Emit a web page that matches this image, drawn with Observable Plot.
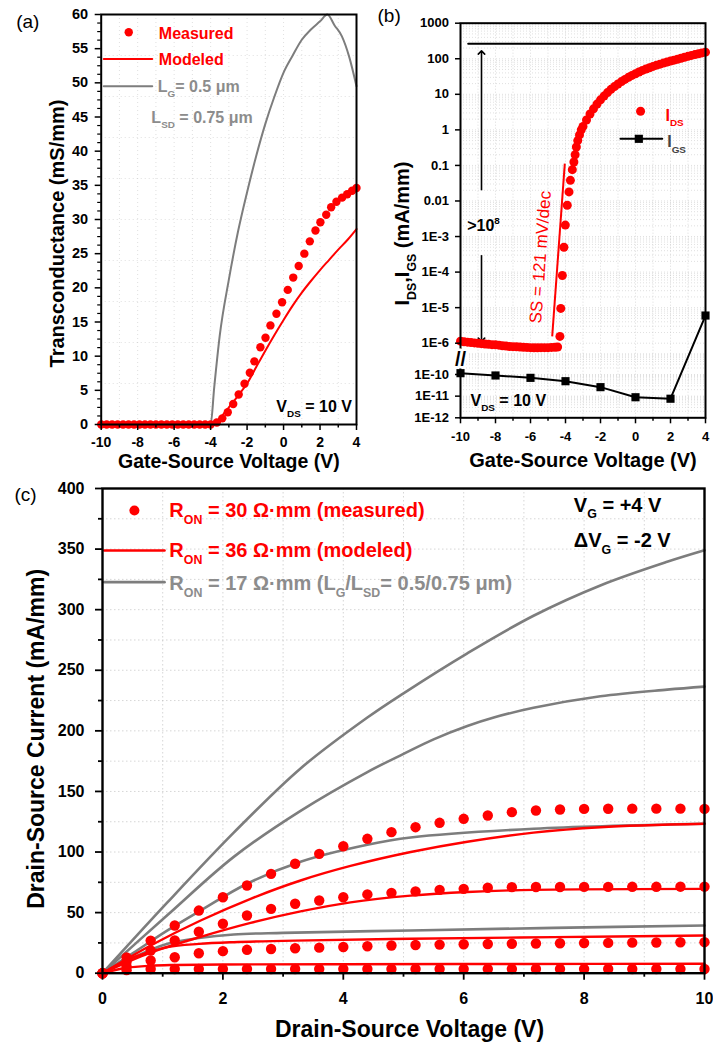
<!DOCTYPE html>
<html><head><meta charset="utf-8">
<script src="https://cdn.jsdelivr.net/npm/d3@7"></script>
<script src="https://cdn.jsdelivr.net/npm/@observablehq/plot@0.6"></script>
<style>
body{margin:0;background:#fff;}
#fig{position:relative;width:713px;height:1044px;overflow:hidden;background:#fff;}
.panel{position:absolute;}
.panel svg{overflow:visible;}
</style></head>
<body><div id="fig">
<div id="pa" class="panel" style="left:0;top:0"></div>
<div id="pb" class="panel" style="left:355px;top:0"></div>
<div id="pc" class="panel" style="left:0;top:470px"></div>
</div>
<script>
// ---------- Panel (a): transconductance ----------
const gmMeasX = [-10,-9.7,-9.4,-9.1,-8.8,-8.5,-8.2,-7.9,-7.6,-7.3,-7.0,-6.7,-6.4,-6.1,-5.8,-5.5,-5.2,-4.9,-4.6,-4.3,-4.0,
  -3.66,-3.36,-3.06,-2.76,-2.46,-2.14,-1.85,-1.6,-1.27,-0.99,-0.72,-0.39,-0.08,0.23,0.53,0.83,1.14,1.44,1.75,2.02,2.34,2.61,2.9,3.21,3.49,3.76,4.0];
const gmMeasY = [0,0,0,0,0,0,0,0,0,0,0,0,0,0,0,0,0,0,0,0,0,
  0.3,0.9,1.8,3.0,4.4,5.96,7.57,9.24,11.3,12.7,14.5,16.2,17.9,19.7,21.5,23.2,25.0,26.8,28.4,29.6,30.7,31.8,32.6,33.2,33.7,34.2,34.6];
const gmModX = [-10,-4,-3.8,-3.5,-3,-2.5,-2,-1.5,-1,-0.5,0,0.5,1,1.5,2,2.5,3,3.5,4];
const gmModY = [0,0,0.1,0.9,2.5,4.2,6.0,8.4,10.8,13.1,15.3,17.4,19.3,21.0,22.6,24.1,25.6,27.0,28.6];
const gmLgX = [-10,-4,-3.8,-3.5,-3,-2.5,-2,-1.5,-1,-0.5,0,0.5,1,1.5,2,2.4,2.8,3.2,3.6,4];
const gmLgY = [0,0,5.5,13,21.2,28.2,34,39.3,44,48,51.5,54,56.3,57.8,59,60,58.4,56.8,53.8,49.5];
const aTicksX = [-10,-8,-6,-4,-2,0,2,4];
const aTicksY = [0,5,10,15,20,25,30,35,40,45,50,55,60];

// ---------- Panel (b): transfer characteristics (broken log axis) ----------
const idsX = [-10,-9.8,-9.6,-9.4,-9.2,-9.0,-8.8,-8.6,-8.4,-8.2,-8.0,-7.8,-7.6,-7.4,-7.2,-7.0,-6.8,-6.6,-6.4,-6.2,-6.0,-5.8,-5.6,-5.4,-5.2,-5.0,-4.8,-4.6,-4.45,
  -4.32,-4.27,-4.18,-4.09,-4.01,-3.9,-3.8,-3.72,-3.61,-3.52,-3.45,-3.38,-3.3,-3.2,-3.1,
  -3.0,-2.8,-2.6,-2.4,-2.2,-2.0,-1.8,-1.6,-1.4,-1.2,-1.0,-0.8,-0.6,-0.4,-0.2,0,0.2,0.4,0.6,0.8,1.0,1.2,1.4,1.6,1.8,2.0,2.2,2.4,2.6,2.8,3.0,3.2,3.4,3.6,3.8,4.0];
const idsY = [1.14e-6,1.1e-6,1.07e-6,1.04e-6,1.02e-6,1.0e-6,9.7e-7,9.5e-7,9.3e-7,9.1e-7,9.0e-7,8.8e-7,8.5e-7,8.3e-7,8.1e-7,8.0e-7,7.9e-7,7.8e-7,7.7e-7,7.6e-7,7.5e-7,7.4e-7,7.4e-7,7.5e-7,7.5e-7,7.5e-7,7.6e-7,7.7e-7,7.8e-7,
  1.55e-6,9.5e-6,8e-5,5e-4,2.1e-3,7.6e-3,0.018,0.038,0.076,0.125,0.2,0.33,0.5,0.72,1.0,
  1.25,1.9,2.8,3.9,5.3,7.0,8.9,11.2,13.8,16.5,19.5,22.8,26.3,30,34,38,42.5,47,51.5,56,61,66,70.5,75.5,80.5,86,91.5,97,103,110,117,124,131,138,146,153];
const igsX = [-10,-8,-6,-4,-2,0,2,4];
const igsY = [1.15e-10,9e-11,7e-11,4.9e-11,2.6e-11,8.9e-12,7.6e-12,6e-6];
const bTickVals = [1000,100,10,1,0.1,0.01,1e-3,1e-4,1e-5,1e-6,1e-10,1e-11,1e-12];
const bTickLabels = ["1000","100","10","1","0.1","0.01","1E-3","1E-4","1E-5","1E-6","1E-10","1E-11","1E-12"];
const bTicksX = [-10,-8,-6,-4,-2,0,2,4];
const onLevel = 263;        // horizontal on-current reference level (mA/mm)

// ---------- Panel (c): output characteristics ----------
const vdsDots = [0,0.4,0.8,1.2,1.6,2.0,2.4,2.8,3.2,3.6,4.0,4.4,4.8,5.2,5.6,6.0,6.4,6.8,7.2,7.6,8.0,8.4,8.8,9.2,9.6,10];
const meas4 = [0,13,26.9,39.4,51.7,62.7,72.4,82,90.3,98.5,104.8,110.9,116.4,120.5,124.1,127.4,130.1,132.9,134.3,135.1,135.6,135.7,135.8,135.8,135.8,135.6];
const meas2 = [0,9.5,18.7,27,34.2,40.8,47.6,53.1,57.3,60,62.7,65,66.3,67.5,68.8,69.6,70.5,71.0,71.1,71.1,71.2,71.2,71.3,71.3,71.4,71.4];
const meas0 = [0,5.5,10.5,13.2,16.5,18.2,19.3,20.0,20.6,21.1,21.6,22.2,22.9,23.3,23.6,23.9,24.1,24.3,24.5,24.7,24.9,25.0,25.2,25.3,25.5,25.6];
const measM2 = [0,2.5,3.5,3.5,3.5,3.5,3.5,3.5,3.5,3.5,3.5,3.5,3.5,3.5,3.5,3.5,3.5,3.5,3.5,3.5,3.5,3.5,3.5,3.5,3.5,3.5];
const mod4X = [0,0.8,1.63,2.46,3.29,4.12,5.12,6.06,7.16,8.27,10];
const mod4Y = [0,22.9,43.5,61.4,76.5,88.5,100,108.5,116,120.5,123.3];
const mod2X = [0,0.8,1.63,2.46,3.29,4.12,5.12,6.06,7.16,10];
const mod2Y = [0,17,30,41.5,51,58.5,64,67,68.8,69.6];
const mod0X = [0,0.52,1.08,1.6,2.18,3.2,5.12,7.5,10];
const mod0Y = [0,13.2,21.5,24.2,25.6,26.9,28.4,29.8,31.1];
const modM2X = [0,0.4,0.8,1.2,2,4,7,10];
const modM2Y = [0,4.5,6.2,6.8,7.2,7.4,7.6,7.8];
const lg1X = [0,1.07,2.18,3.29,4.4,5.0,6.06,7.16,8.27,9.38,10];
const lg1Y = [0,58,116,169,211,231,264,295,320,339.5,349];
const lg2X = [0,1.08,2.18,3.29,4.4,5.0,5.5,6.06,6.5,7.16,8.27,9.38,10];
const lg2Y = [0,48,96,134,166,181,193,204,211,219,228.5,234,236.5];
const lg3X = [0,0.52,1.08,1.63,2.4,3.29,4.4,5.12,7.16,10];
const lg3Y = [0,17,35.3,51.7,73.8,92,106,112,119.2,123.3];
const lg4X = [0,0.52,1.08,1.6,2.18,3,5.12,7.5,10];
const lg4Y = [0,13.2,24.3,29,32,33.3,35.3,37.4,39.4];
const cTicksX = [0,2,4,6,8,10];
const cTicksY = [0,50,100,150,200,250,300,350,400];

// ---------- helpers ----------
const FONT = '"Liberation Sans", Arial, Helvetica, sans-serif';
const RED = "#ff0000", GRAY = "#7d7d7d", LGRAY = "#8c8c8c";
const pts = (xs, ys, f = v => v) => xs.map((x, i) => ({x, y: f(ys[i])}));
const fmt = d => String(d);

function rich(svg) {
  svg.querySelectorAll("text").forEach(t => {
    const s = t.textContent;
    if (!/[_^]\{/.test(s)) return;
    const fs = parseFloat(getComputedStyle(t).fontSize) || 12;
    while (t.firstChild) t.removeChild(t.firstChild);
    const add = (txt, dy, small) => {
      const ts = document.createElementNS("http://www.w3.org/2000/svg", "tspan");
      ts.textContent = txt;
      if (dy) ts.setAttribute("dy", dy.toFixed(2));
      if (small) ts.setAttribute("font-size", (fs * 0.62).toFixed(2));
      t.appendChild(ts);
    };
    const re = /([_^])\{([^}]*)\}/g; let last = 0, m, shift = 0;
    while ((m = re.exec(s))) {
      if (m.index > last) { add(s.slice(last, m.index), -shift, false); shift = 0; }
      const d = m[1] === "_" ? fs * 0.33 : -fs * 0.42;
      add(m[2], d - shift, true); shift = d;
      last = re.lastIndex;
    }
    if (last < s.length) add(s.slice(last), -shift, false);
  });
}
function mount(id, svg) { document.getElementById(id).appendChild(svg); rich(svg); }
const txt = (s, o) => Plot.text([s], {text: d => d, fontFamily: FONT, ...o});
const CURVE = "catmull-rom";

// ---------- Panel (a) ----------
mount("pa", Plot.plot({
  width: 358, height: 475, marginLeft: 100.7, marginRight: 2, marginTop: 14, marginBottom: 51,
  style: {fontFamily: FONT, background: "transparent", overflow: "visible"},
  x: {domain: [-10, 4]}, y: {domain: [0, 60]},
  marks: [
    Plot.gridX(d3.range(-9, 4, 1), {stroke: "#bbb", strokeOpacity: 0.45, strokeDasharray: "1,3"}),
    Plot.gridY(d3.range(6, 60, 6), {stroke: "#bbb", strokeOpacity: 0.45, strokeDasharray: "1,3"}),
    Plot.line(pts(gmLgX, gmLgY), {x: "x", y: "y", stroke: GRAY, strokeWidth: 2, curve: "monotone-x"}),
    Plot.line(pts(gmModX, gmModY), {x: "x", y: "y", stroke: RED, strokeWidth: 2, curve: "monotone-x"}),
    Plot.dot(pts(gmMeasX, gmMeasY), {x: "x", y: "y", r: 4.2, fill: RED}),
    // legend
    Plot.dot([{x: -8.49, y: 57.4}], {x: "x", y: "y", r: 4.2, fill: RED}),
    Plot.line([{x: -9.86, y: 53.5}, {x: -7.2, y: 53.5}], {x: "x", y: "y", stroke: RED, strokeWidth: 2}),
    Plot.line([{x: -9.86, y: 49.5}, {x: -7.2, y: 49.5}], {x: "x", y: "y", stroke: GRAY, strokeWidth: 2}),
    txt("Measured", {x: -6.84, y: 57.2, textAnchor: "start", fill: RED, fontSize: 16, fontWeight: "bold"}),
    txt("Modeled", {x: -6.84, y: 53.3, textAnchor: "start", fill: RED, fontSize: 16, fontWeight: "bold"}),
    txt("L_{G}= 0.5 μm", {x: -6.9, y: 49.4, textAnchor: "start", fill: LGRAY, fontSize: 16, fontWeight: "bold"}),
    txt("L_{SD} = 0.75 μm", {x: -7.25, y: 44.9, textAnchor: "start", fill: LGRAY, fontSize: 16, fontWeight: "bold"}),
    txt("V_{DS} = 10 V", {x: 3.75, y: 2.6, textAnchor: "end", fill: "black", fontSize: 16, fontWeight: "bold"}),
    // axes
    Plot.axisX(aTicksX, {tickSize: 6, tickPadding: 7, fontSize: 14, fontWeight: "bold", strokeWidth: 1.5, tickFormat: fmt, label: null}),
    Plot.axisX(d3.range(-9, 4, 2), {tickSize: 3.5, strokeWidth: 1.5, tickFormat: () => "", label: null}),
    Plot.axisY(aTicksY, {tickSize: 6, tickPadding: 7, fontSize: 14.5, fontWeight: "bold", strokeWidth: 1.5, tickFormat: fmt, label: null}),
    Plot.axisY(d3.range(0, 60.01, 1.25).filter(v => v % 5 !== 0), {tickSize: 3.5, strokeWidth: 1.2, tickFormat: () => "", label: null}),
    txt("Transconductance (mS/mm)", {frameAnchor: "left", rotate: -90, textAnchor: "middle", lineAnchor: "middle", dx: -44, dy: 14, fontSize: 20, fontWeight: "bold"}),
    txt("Gate-Source Voltage (V)", {frameAnchor: "bottom", textAnchor: "middle", lineAnchor: "middle", dy: 37, fontSize: 19.5, fontWeight: "bold"}),
    txt("(a)", {frameAnchor: "top-left", textAnchor: "start", lineAnchor: "middle", dx: -85, dy: 7, fontSize: 19}),
    Plot.frame({stroke: "black", strokeWidth: 2})
  ]
}));

// ---------- Panel (b) ----------
// broken log axis: upper section 1E-6..1000 (log10), lower section 1E-12..1E-10 compressed below the break
const u = v => { const L = Math.log10(v); return L > -8 ? L : -6.88 + (L + 10) * 0.609; };
const bTickU = bTickVals.map(u);
const bLabel = new Map(bTickU.map((k, i) => [k, bTickLabels[i]]));
const bMinor = [];
for (let k = -6; k < 3; k++) for (let m = 2; m <= 9; m++) bMinor.push(m * Math.pow(10, k));
for (let k = -12; k < -9; k++) for (let m = 2; m <= 9; m++) if (m * Math.pow(10, k) <= 1e-9) bMinor.push(m * Math.pow(10, k));

mount("pb", Plot.plot({
  width: 358, height: 475, marginLeft: 105, marginRight: 8, marginTop: 22.7, marginBottom: 475 - 417.3,
  style: {fontFamily: FONT, background: "transparent", overflow: "visible"},
  x: {domain: [-10, 4]}, y: {domain: [u(1e-12), 3]},
  marks: [
    Plot.gridX(d3.range(-9, 4, 1), {stroke: "#bbb", strokeOpacity: 0.5, strokeDasharray: "1,2"}),
    Plot.gridY(bMinor.map(u).concat(bTickU), {stroke: "#bbb", strokeOpacity: 0.45, strokeDasharray: "1,2"}),
    Plot.line([{x: -9.56, y: u(onLevel)}, {x: 3.87, y: u(onLevel)}], {x: "x", y: "y", stroke: "black", strokeWidth: 2}),
    // double-headed ">10^8" arrow, interrupted by its label
    Plot.link([{x: -8.8, y1: u(0.02), y2: u(150)}], {x: "x", y1: "y1", y2: "y2", stroke: "black", strokeWidth: 1.6, markerEnd: "arrow"}),
    Plot.link([{x: -8.8, y1: u(3e-4), y2: u(1.25e-6)}], {x: "x", y1: "y1", y2: "y2", stroke: "black", strokeWidth: 1.6, markerEnd: "arrow"}),
    Plot.link([{x1: -4.76, y1: u(1.55e-6), x2: -4.04, y2: u(0.112)}], {x1: "x1", y1: "y1", x2: "x2", y2: "y2", stroke: RED, strokeWidth: 2}),
    Plot.dot(pts(idsX, idsY, u), {x: "x", y: "y", r: 4.5, fill: RED}),
    Plot.line(pts(igsX, igsY, u), {x: "x", y: "y", stroke: "black", strokeWidth: 2}),
    Plot.dot(pts(igsX, igsY, u), {x: "x", y: "y", r: 4.6, symbol: "square", fill: "black"}),
    txt("SS = 121 mV/dec", {x: -5.43, y: -3.58, rotate: -85.8, textAnchor: "middle", lineAnchor: "middle", fill: RED, fontSize: 17}),
    txt(">10^{8}", {x: -9.62, y: -2.69, textAnchor: "start", lineAnchor: "middle", fill: "black", fontSize: 16, fontWeight: "bold"}),
    txt("V_{DS} = 10 V", {x: -9.43, y: u(6.3e-12), textAnchor: "start", fill: "black", fontSize: 16, fontWeight: "bold"}),
    // legend
    Plot.dot([{x: 0.29, y: u(3.35)}], {x: "x", y: "y", r: 4.5, fill: RED}),
    Plot.line([{x: -0.86, y: u(0.56)}, {x: 1.53, y: u(0.56)}], {x: "x", y: "y", stroke: "black", strokeWidth: 2}),
    Plot.dot([{x: 0.19, y: u(0.56)}], {x: "x", y: "y", r: 4.6, symbol: "square", fill: "black"}),
    txt("I_{DS}", {x: 1.71, y: u(2.5), textAnchor: "start", fill: RED, fontSize: 16, fontWeight: "bold"}),
    txt("I_{GS}", {x: 1.81, y: u(0.45), textAnchor: "start", fill: "#444", fontSize: 16, fontWeight: "bold"}),
    // axes
    Plot.axisX(bTicksX, {tickSize: 6, tickPadding: 8, fontSize: 13, fontWeight: "bold", strokeWidth: 1.5, tickFormat: fmt, label: null}),
    Plot.axisX(d3.range(-9, 4, 2), {tickSize: 3.5, strokeWidth: 1.5, tickFormat: () => "", label: null}),
    Plot.axisY(bTickU, {tickSize: 5, tickPadding: 6.5, fontSize: 13, fontWeight: "bold", strokeWidth: 1.5, tickFormat: d => bLabel.get(d), label: null}),
    txt("I_{DS},I_{GS} (mA/mm)", {frameAnchor: "left", rotate: -90, textAnchor: "middle", lineAnchor: "middle", dx: -58, dy: 13, fontSize: 20, fontWeight: "bold"}),
    txt("Gate-Source Voltage (V)", {frameAnchor: "bottom", textAnchor: "middle", lineAnchor: "middle", dy: 43, fontSize: 20, fontWeight: "bold"}),
    txt("(b)", {frameAnchor: "top-left", textAnchor: "start", lineAnchor: "middle", dx: -83, dy: -7.5, fontSize: 19}),
    Plot.frame({stroke: "black", strokeWidth: 2}),
    txt("//", {x: -10, y: -6.46, textAnchor: "middle", lineAnchor: "middle", fill: "black", stroke: "white", strokeWidth: 5, paintOrder: "stroke", fontSize: 20, fontWeight: "bold"})
  ]
}));

// ---------- Panel (c) ----------
const cSeriesDots = [meas4, meas2, meas0, measM2];
const cModel = [[mod4X, mod4Y], [mod2X, mod2Y], [mod0X, mod0Y], [modM2X, modM2Y]];
const cLg = [[lg1X, lg1Y], [lg2X, lg2Y], [lg3X, lg3Y], [lg4X, lg4Y]];
mount("pc", Plot.plot({
  width: 713, height: 574, marginLeft: 102, marginRight: 9, marginTop: 18, marginBottom: 574 - 502.7,
  style: {fontFamily: FONT, background: "transparent", overflow: "visible"},
  x: {domain: [0, 10]}, y: {domain: [0, 400]},
  marks: [
    Plot.gridX(d3.range(1, 10, 1), {stroke: "#bbb", strokeOpacity: 0.6, strokeDasharray: "1.5,2.5"}),
    Plot.gridY(d3.range(25, 400, 25), {stroke: "#bbb", strokeOpacity: 0.6, strokeDasharray: "1.5,2.5"}),
    ...cLg.map(([xs, ys]) => Plot.line(pts(xs, ys), {x: "x", y: "y", stroke: GRAY, strokeWidth: 2.6, curve: CURVE})),
    ...cModel.map(([xs, ys]) => Plot.line(pts(xs, ys), {x: "x", y: "y", stroke: RED, strokeWidth: 2.4, curve: CURVE})),
    ...cSeriesDots.map(ys => Plot.dot(pts(vdsDots, ys), {x: "x", y: "y", r: 5.2, fill: RED})),
    // legend
    Plot.dot([{x: 0.53, y: 381.8}], {x: "x", y: "y", r: 5, fill: RED}),
    Plot.line([{x: 0.03, y: 348.8}, {x: 1.03, y: 348.8}], {x: "x", y: "y", stroke: RED, strokeWidth: 2.6}),
    Plot.line([{x: 0.03, y: 322.7}, {x: 1.03, y: 322.7}], {x: "x", y: "y", stroke: GRAY, strokeWidth: 2.6}),
    txt("R_{ON} = 30 Ω·mm (measured)", {x: 1.11, y: 381.8, textAnchor: "start", fill: RED, fontSize: 20, fontWeight: "bold"}),
    txt("R_{ON} = 36 Ω·mm (modeled)", {x: 1.11, y: 348.8, textAnchor: "start", fill: RED, fontSize: 20, fontWeight: "bold"}),
    txt("R_{ON} = 17 Ω·mm (L_{G}/L_{SD}= 0.5/0.75 μm)", {x: 1.11, y: 321.3, textAnchor: "start", fill: LGRAY, fontSize: 20, fontWeight: "bold"}),
    txt("V_{G} = +4 V", {x: 7.83, y: 386, textAnchor: "start", fill: "black", fontSize: 20, fontWeight: "bold"}),
    txt("ΔV_{G} = -2 V", {x: 7.83, y: 357, textAnchor: "start", fill: "black", fontSize: 20, fontWeight: "bold"}),
    // axes
    Plot.axisX(cTicksX, {tickSize: 7, tickPadding: 12, fontSize: 16, fontWeight: "bold", strokeWidth: 1.8, tickFormat: fmt, label: null}),
    Plot.axisX(d3.range(1, 10, 2), {tickSize: 4, strokeWidth: 1.8, tickFormat: () => "", label: null}),
    Plot.axisY(cTicksY, {tickSize: 7, tickPadding: 11, fontSize: 16, fontWeight: "bold", strokeWidth: 1.8, tickFormat: fmt, label: null}),
    Plot.axisY(d3.range(25, 400, 50), {tickSize: 4, strokeWidth: 1.8, tickFormat: () => "", label: null}),
    txt("Drain-Source Current (mA/mm)", {frameAnchor: "left", rotate: -90, textAnchor: "middle", lineAnchor: "middle", dx: -66, dy: 8, fontSize: 23, fontWeight: "bold"}),
    txt("Drain-Source Voltage (V)", {frameAnchor: "bottom", textAnchor: "middle", lineAnchor: "middle", dx: 6, dy: 56, fontSize: 23, fontWeight: "bold"}),
    txt("(c)", {frameAnchor: "top-left", textAnchor: "start", lineAnchor: "middle", dx: -88, dy: 6, fontSize: 19}),
    Plot.frame({stroke: "black", strokeWidth: 2.4})
  ]
}));
</script>
</body></html>
